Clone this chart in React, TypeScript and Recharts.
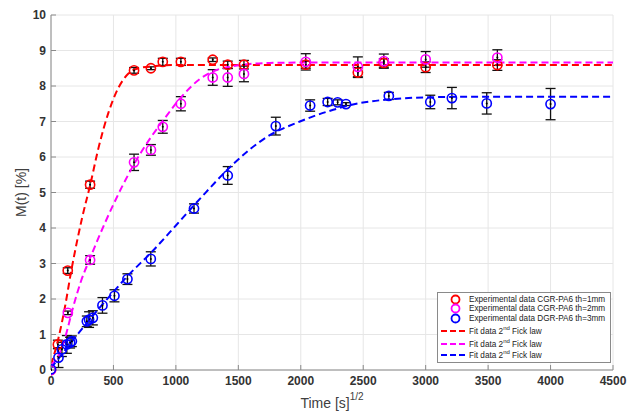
import React from "react";
import {
  ComposedChart,
  Scatter,
  Line,
  XAxis,
  YAxis,
  CartesianGrid,
  ErrorBar,
} from "recharts";

// ---------- data ----------
const xTicks = [0, 500, 1000, 1500, 2000, 2500, 3000, 3500, 4000, 4500];
const yTicks = [0, 1, 2, 3, 4, 5, 6, 7, 8, 9, 10];

// Experimental data CGR-PA6 th=1mm (red)
const redX = [0, 55, 134, 313, 665, 800, 895, 1040, 1295, 1415, 1545, 2040, 2457, 2665, 3000, 3574];
const redY = [0, 0.72, 2.8, 5.22, 8.44, 8.5, 8.68, 8.68, 8.74, 8.6, 8.6, 8.6, 8.38, 8.65, 8.53, 8.59];
const redErr = [0, 0.12, 0.08, 0.1, 0.08, 0.04, 0.1, 0.1, 0.05, 0.1, 0.12, 0.1, 0.14, 0.12, 0.15, 0.15];

// Experimental data CGR-PA6 th=2mm (magenta)
const magX = [0, 135, 313, 665, 800, 895, 1040, 1295, 1415, 1545, 2040, 2457, 2665, 3000, 3574];
const magY = [0, 1.61, 3.1, 5.85, 6.2, 6.85, 7.5, 8.24, 8.24, 8.34, 8.68, 8.54, 8.7, 8.75, 8.8];
const magErr = [0, 0.05, 0.12, 0.23, 0.15, 0.18, 0.2, 0.22, 0.25, 0.22, 0.23, 0.28, 0.2, 0.22, 0.22];

// Experimental data DGR-PA6 th=3mm (blue)
const blueX = [0, 60, 87, 127, 153, 167, 287, 305, 335, 412, 508, 612, 799, 1145, 1415, 1800, 2075, 2215, 2295, 2362, 2705, 3037, 3210, 3489, 4000];
const blueY = [0.02, 0.35, 0.58, 0.72, 0.77, 0.81, 1.37, 1.42, 1.47, 1.82, 2.09, 2.56, 3.13, 4.55, 5.48, 6.87, 7.45, 7.55, 7.54, 7.49, 7.72, 7.55, 7.66, 7.51, 7.49];
const blueErr = [0, 0.28, 0.2, 0.25, 0.15, 0.15, 0.15, 0.22, 0.2, 0.22, 0.17, 0.15, 0.2, 0.13, 0.25, 0.25, 0.16, 0.1, 0.07, 0.04, 0.1, 0.19, 0.3, 0.3, 0.44];

// Fit data 2nd Fick law
const redFitX = [0, 60, 112, 160, 250, 313, 380, 460, 540, 620, 700, 860, 1000, 1500, 2000, 3000, 4500];
const redFitY = [0.15, 0.9, 1.78, 2.75, 4.3, 5.2, 6.25, 7.25, 7.95, 8.35, 8.5, 8.57, 8.59, 8.59, 8.59, 8.59, 8.59];

const magFitX = [0, 60, 112, 178, 240, 313, 433, 567, 665, 799, 900, 1046, 1193, 1326, 1459, 1592, 1752, 2000, 3000, 4500];
const magFitY = [0.15, 0.4, 0.9, 1.78, 2.5, 3.15, 4.15, 5.15, 5.8, 6.55, 7.04, 7.7, 8.2, 8.45, 8.56, 8.62, 8.65, 8.66, 8.66, 8.66];

const blueFitX = [0, 100, 200, 300, 400, 500, 600, 800, 1000, 1192, 1459, 1726, 1993, 2260, 2474, 2700, 3000, 3500, 4500];
const blueFitY = [0.05, 0.5, 0.95, 1.38, 1.8, 2.2, 2.6, 3.3, 4.07, 4.82, 5.8, 6.56, 7.0, 7.33, 7.52, 7.62, 7.68, 7.7, 7.7];

const legendLabels = [
  "Experimental data CGR-PA6 th=1mm",
  "Experimental data CGR-PA6 th=2mm",
  "Experimental data DGR-PA6 th=3mm",
];
const fitLabel = ["Fit data 2", "nd", " Fick law"];

// ---------- helpers ----------
const pts = (xs: number[], ys: number[], es: number[]) =>
  xs.map((x, i) => ({ x, y: ys[i], err: es[i] }));
const line = (xs: number[], ys: number[]) => xs.map((x, i) => ({ x, y: ys[i] }));

const RED = "#ff0000";
const MAG = "#ff00ff";
const BLUE = "#0000ff";
const FONT = "'Liberation Sans', Arial, Helvetica, sans-serif";

const marker = (color: string) => (props: any) => {
  const { cx, cy } = props;
  if (cx == null || cy == null) return <g />;
  return (
    <g>
      <circle cx={cx} cy={cy} r={4.6} fill="none" stroke={color} strokeWidth={1.6} />
      <circle cx={cx} cy={cy} r={1} fill="#000" />
    </g>
  );
};

const XLabel = (props: any) => {
  const vb = props.viewBox || {};
  const cx = vb.x + vb.width / 2;
  return (
    <text x={cx} y={vb.y + 38} textAnchor="middle" fontFamily={FONT} fill="#404040">
      <tspan fontSize={14}>Time [s]</tspan>
      <tspan fontSize={10} dy={-8}>1/2</tspan>
    </text>
  );
};

const YLabel = (props: any) => {
  const vb = props.viewBox || {};
  const x = 22;
  const y = vb.y + vb.height / 2;
  return (
    <text
      x={x}
      y={y}
      textAnchor="middle"
      dominantBaseline="middle"
      transform={`rotate(-90 ${x} ${y})`}
      fontFamily={FONT}
      fontSize={14}
      fill="#404040"
    >
      M(t) [%]
    </text>
  );
};

const tickStyle = { fontFamily: FONT, fontSize: 12, fontWeight: 700, fill: "#333" };

const expTops = [0.5, 10, 19.8];
const fitTops = [31.5, 44.8, 56.2];

export default function App() {
  const red = pts(redX, redY, redErr);
  const mag = pts(magX, magY, magErr);
  const blue = pts(blueX, blueY, blueErr);

  return (
    <div style={{ position: "absolute", left: 0, top: 0, width: 629, height: 414, background: "#fff" }}>
      <ComposedChart
        width={629}
        height={414}
        margin={{ top: 15, right: 16, left: 0, bottom: 0 }}
      >
        <CartesianGrid stroke="#e6e6e6" strokeWidth={1} />
        <XAxis
          xAxisId={0}
          dataKey="x"
          type="number"
          domain={[0, 4500]}
          ticks={xTicks}
          height={44}
          tickSize={-5}
          tickMargin={11}
          stroke="#8a8a8a"
          tick={tickStyle}
          allowDataOverflow
          label={<XLabel />}
        />
        <XAxis
          xAxisId="top"
          orientation="top"
          dataKey="x"
          type="number"
          domain={[0, 4500]}
          ticks={xTicks}
          height={0}
          tickSize={-5}
          stroke="#8a8a8a"
          tickFormatter={() => ""}
        />
        <YAxis
          yAxisId={0}
          dataKey="y"
          type="number"
          domain={[0, 10]}
          ticks={yTicks}
          width={51}
          tickSize={-5}
          tickMargin={10}
          stroke="#8a8a8a"
          tick={tickStyle}
          label={<YLabel />}
        />
        <YAxis
          yAxisId="right"
          orientation="right"
          dataKey="y"
          type="number"
          domain={[0, 10]}
          ticks={yTicks}
          width={0}
          tickSize={-5}
          stroke="#8a8a8a"
          tickFormatter={() => ""}
        />

        <Scatter data={red} fill="none" isAnimationActive={false} shape={marker(RED)}>
          <ErrorBar dataKey="err" direction="y" width={5} stroke="#111" strokeWidth={1.3} isAnimationActive={false} />
        </Scatter>
        <Scatter data={mag} fill="none" isAnimationActive={false} shape={marker(MAG)}>
          <ErrorBar dataKey="err" direction="y" width={5} stroke="#111" strokeWidth={1.3} isAnimationActive={false} />
        </Scatter>
        <Scatter data={blue} fill="none" isAnimationActive={false} shape={marker(BLUE)}>
          <ErrorBar dataKey="err" direction="y" width={5} stroke="#111" strokeWidth={1.3} isAnimationActive={false} />
        </Scatter>

        <Line data={line(redFitX, redFitY)} dataKey="y" type="monotone" stroke={RED} strokeWidth={2} strokeDasharray="7 4" dot={false} activeDot={false} isAnimationActive={false} />
        <Line data={line(magFitX, magFitY)} dataKey="y" type="monotone" stroke={MAG} strokeWidth={2} strokeDasharray="7 4" dot={false} activeDot={false} isAnimationActive={false} />
        <Line data={line(blueFitX, blueFitY)} dataKey="y" type="monotone" stroke={BLUE} strokeWidth={2} strokeDasharray="7 4" dot={false} activeDot={false} isAnimationActive={false} />
      </ComposedChart>

      <div
        style={{
          position: "absolute",
          left: 437,
          top: 292,
          width: 174,
          height: 71,
          background: "#fff",
          border: "1px solid #8a8a8a",
          boxSizing: "border-box",
          fontFamily: FONT,
          fontSize: 8.2,
          color: "#222",
        }}
      >
        {[RED, MAG, BLUE].map((c, i) => (
          <div key={"e" + i} style={{ position: "absolute", left: 0, top: expTops[i], height: 11, width: 172, display: "flex", alignItems: "center" }}>
            <svg width={31} height={11} style={{ display: "block" }}>
              <circle cx={17.5} cy={5.5} r={4} fill="none" stroke={c} strokeWidth={1.8} />
            </svg>
            <span style={{ whiteSpace: "nowrap" }}>{legendLabels[i]}</span>
          </div>
        ))}
        {[RED, MAG, BLUE].map((c, i) => (
          <div key={"f" + i} style={{ position: "absolute", left: 0, top: fitTops[i], height: 11, width: 172, display: "flex", alignItems: "center" }}>
            <svg width={31} height={11} style={{ display: "block" }}>
              <line x1={3} y1={6} x2={29} y2={6} stroke={c} strokeWidth={1.8} strokeDasharray="6 3" />
            </svg>
            <span style={{ whiteSpace: "nowrap" }}>
              {fitLabel[0]}
              <sup style={{ fontSize: 6 }}>{fitLabel[1]}</sup>
              {fitLabel[2]}
            </span>
          </div>
        ))}
      </div>
    </div>
  );
}
